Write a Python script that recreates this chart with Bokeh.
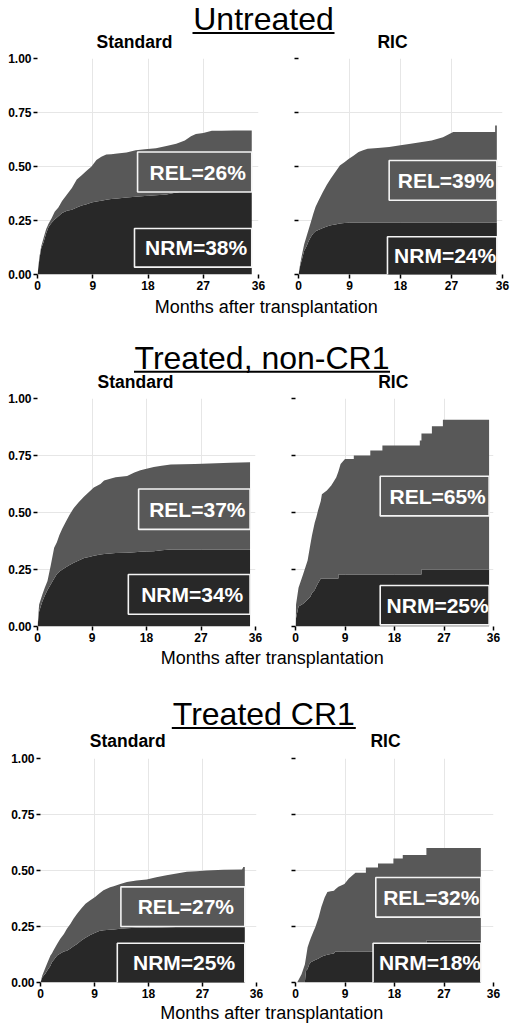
from bokeh.plotting import figure
from bokeh.models import Range1d, FixedTicker, PrintfTickFormatter, ColumnDataSource, CustomLabelingPolicy
from bokeh.layouts import column, row
from bokeh.embed import file_html
from bokeh.resources import INLINE
from bokeh.core.properties import value

# ---------------- data ----------------
sections = ["Untreated", "Treated, non-CR1", "Treated CR1"]
panels = ["Standard", "RIC"]
x_ticks = [0, 9, 18, 27, 36]
y_ticks = [0, 0.25, 0.5, 0.75, 1.0]
x_title = "Months after transplantation"

rel_pct = [[26, 39], [37, 65], [27, 32]]
nrm_pct = [[38, 24], [34, 25], [25, 18]]

# cumulative incidence: time (months), NRM, NRM + relapse (top of stack)
# Untreated - Standard
unt_std_t = [0, 0.3, 0.6, 1.0, 1.4, 1.8, 2.3, 2.8, 3.4, 4.0, 4.8, 5.6, 6.4, 7.2, 8.0, 8.8, 9.6, 10.4, 11.2, 12.0,
             13.0, 14.5, 16.0, 17.5, 19.3, 21.0, 22.6, 24.0, 25.0, 25.8, 27.0, 28.4, 30.0, 32.0, 34.9]
unt_std_nrm = [0, .07, .12, .15, .19, .22, .24, .255, .27, .285, .295, .30, .31, .32, .325, .333, .338, .342, .346, .35,
               .352, .356, .36, .363, .367, .37, .38, .385, .39, .40, .402, .405, .408, .41, .41]
unt_std_total = [0, .08, .13, .17, .21, .235, .26, .29, .31, .34, .37, .40, .44, .46, .48, .50, .53, .545, .555, .557,
                 .56, .565, .575, .58, .585, .595, .605, .62, .64, .65, .655, .665, .665, .667, .667]
# Untreated - RIC
unt_ric_t = [0, 0.3, 0.6, 1.0, 1.4, 1.8, 2.2, 2.6, 3.0, 3.5, 4.3, 5.0, 5.7, 6.5, 7.3, 8.1, 8.9, 9.7, 10.6, 11.4,
             12.2, 14.0, 16.0, 18.0, 19.8, 21.5, 23.5, 25.5, 27.3, 34.7, 34.7, 35.0]
unt_ric_nrm = [0, .04, .07, .11, .13, .155, .175, .19, .20, .206, .215, .222, .228, .232, .236, .238, .24, .24, .24, .24,
               .24, .24, .24, .24, .24, .24, .24, .24, .24, .24, .24, .24]
unt_ric_total = [0, .05, .09, .14, .175, .21, .244, .28, .313, .34, .382, .415, .444, .475, .505, .52, .536, .55, .567, .575,
                 .582, .586, .59, .598, .605, .612, .62, .635, .66, .66, .69, .69]
# Treated, non-CR1 - Standard
tnc_std_t = [0, 0.27, 0.8, 1.2, 1.65, 2.2, 2.75, 3.2, 3.6, 4.1, 4.7, 5.3, 6.0, 6.8, 7.7, 8.5, 9.3, 10.4, 11.0, 12.0,
             12.9, 14.8, 16.0, 17.0, 18.0, 19.2, 20.5, 22.0, 26.0, 31.9, 35.1]
tnc_std_nrm = [0, .066, .11, .135, .16, .185, .21, .23, .24, .25, .26, .27, .28, .29, .30, .305, .31, .316, .318, .32,
               .322, .324, .326, .328, .329, .33, .334, .338, .338, .338, .338]
tnc_std_total = [0, .096, .14, .17, .20, .27, .345, .37, .40, .43, .46, .49, .52, .545, .57, .59, .61, .625, .64, .648,
                 .655, .66, .675, .685, .692, .70, .705, .71, .713, .718, .72]
# Treated, non-CR1 - RIC
tnc_ric_t = [0, 0.1, 0.55, 1.4, 2.2, 2.7, 3.0, 3.5, 3.8, 4.1, 4.6, 4.8, 5.7, 6.5, 7.4, 7.8, 7.8, 8.2, 9.0, 10.6,
             10.6, 13.6, 13.6, 15.8, 15.8, 22.6, 22.6, 22.9, 22.9, 24.8, 24.8, 26.8, 26.8, 35.2]
tnc_ric_nrm = [0, .037, .088, .10, .118, .13, .147, .16, .176, .19, .21, .21, .21, .21, .21, .21, .228, .228, .228, .228,
               .228, .228, .228, .228, .228, .228, .228, .228, .25, .25, .25, .25, .25, .25]
tnc_ric_total = [0, .096, .17, .23, .29, .36, .40, .456, .48, .51, .55, .58, .596, .618, .654, .68, .68, .713, .735, .735,
                 .75, .75, .772, .772, .794, .794, .816, .816, .846, .846, .878, .878, .907, .907]
# Treated CR1 - Standard
tcr_std_t = [0, 0.28, 0.83, 1.1, 1.66, 1.9, 2.2, 2.77, 3.3, 3.9, 4.4, 5.0, 5.5, 6.1, 6.8, 7.5, 8.3, 9.1, 9.8, 10.5,
             11.6, 12.2, 13.3, 14.4, 16.0, 17.7, 19.3, 21.0, 22.7, 24.4, 26.0, 27.7, 30.5, 33.6, 33.8, 34.05]
tcr_std_nrm = [0, .022, .04, .052, .075, .09, .10, .12, .13, .138, .142, .152, .162, .172, .187, .20, .212, .222, .23, .233,
               .235, .237, .24, .242, .244, .245, .246, .247, .248, .249, .25, .25, .25, .25, .25, .25]
tcr_std_total = [0, .03, .067, .085, .12, .13, .145, .172, .195, .217, .24, .262, .285, .307, .33, .352, .367, .382, .397, .412,
                 .425, .43, .44, .449, .455, .46, .47, .479, .487, .494, .497, .50, .503, .505, .516, .516]
# Treated CR1 - RIC
tcr_ric_t = [0, 0.3, 1.1, 1.7, 1.9, 2.2, 2.5, 2.8, 3.3, 3.6, 4.2, 4.7, 5.3, 5.8, 6.4, 7.0, 7.2, 7.8, 8.9, 9.7,
             10.9, 12.8, 12.8, 15.0, 15.0, 17.8, 17.8, 19.5, 19.5, 23.8, 23.8, 33.7]
tcr_ric_nrm = [0, 0, 0, 0, .052, .06, .082, .09, .097, .10, .107, .115, .12, .124, .127, .13, .138, .138, .138, .138,
               .138, .138, .138, .138, .138, .138, .138, .138, .138, .138, .187, .187]
tcr_ric_total = [0, 0, .037, .08, .11, .157, .18, .20, .23, .247, .29, .337, .38, .404, .407, .41, .415, .427, .44, .464,
                 .49, .49, .513, .513, .531, .531, .554, .554, .569, .569, .60, .60]

series = [
    [(unt_std_t, unt_std_nrm, unt_std_total), (unt_ric_t, unt_ric_nrm, unt_ric_total)],
    [(tnc_std_t, tnc_std_nrm, tnc_std_total), (tnc_ric_t, tnc_ric_nrm, tnc_ric_total)],
    [(tcr_std_t, tcr_std_nrm, tcr_std_total), (tcr_ric_t, tcr_ric_nrm, tcr_ric_total)],
]

# ---------------- layout / style ----------------
FONT = "Liberation Sans"
GREY = "#585858"
DARK = "#282828"
GRID = "#e6e6e6"

# label box placement (months, value): rel_x0, rel_y0, rel_y1, nrm_x0, nrm_y0, nrm_y1
box_place = [
    [(16.3, .382, .567, 15.8, .034, .213), (16.0, .344, .528, 15.7, -0.01, .175)],
    [(16.7, .426, .603, 15.0, .054, .228), (15.4, .485, .659, 15.4, .007, .18)],
    [(13.4, .25, .427, 12.8, -0.01, .175), (14.6, .292, .469, 14.1, -0.01, .175)],
]
# page x of frames: L0, L1, R0, R1 ; split between left/right figure ; frame heights
frames_x = [(37, 258, 278, 502), (37, 255, 276, 493), (40, 256, 274, 493)]
split_x = [268, 265, 265]
frame_h = [216, 228, 224]
PAGE_W = 513
MID = 0.33  # offset of text "middle" above the alphabetic baseline, in em


def panel(si, pi, w, mbl, mbr, show_ylabels):
    t, nrm, total = series[si][pi]
    h = 7 + frame_h[si] + 20
    p = figure(width=w, height=h, x_range=Range1d(0, 36), y_range=Range1d(0, 1), title=None,
               min_border_left=mbl, min_border_right=mbr, min_border_top=7, min_border_bottom=20,
               toolbar_location=None, tools="", output_backend="svg")
    p.outline_line_color = None
    src = ColumnDataSource(dict(t=t, nrm=nrm, total=total, zero=[0] * len(t)))
    p.varea(x="t", y1="zero", y2="nrm", fill_color=DARK, source=src)
    p.varea(x="t", y1="nrm", y2="total", fill_color=GREY, source=src)

    end = t[-1]
    bp = box_place[si][pi]
    p.quad(left=[bp[0], bp[3]], right=[end, end], bottom=[bp[1], bp[4]], top=[bp[2], bp[5]],
           fill_color=[GREY, DARK], line_color="#f4f4f4", line_width=1.6)
    p.text(x=[(bp[0] + end) / 2, (bp[3] + end) / 2],
           y=[(max(0, bp[1]) + bp[2]) / 2, (max(0, bp[4]) + bp[5]) / 2],
           text=[f"REL={rel_pct[si][pi]}%", f"NRM={nrm_pct[si][pi]}%"],
           text_color="white", text_font=value(FONT), text_font_style="bold", text_font_size="21px",
           text_align="center", text_baseline="middle", x_offset=3)

    p.xaxis.ticker = FixedTicker(ticks=x_ticks)
    p.yaxis.ticker = FixedTicker(ticks=y_ticks)
    p.yaxis.formatter = PrintfTickFormatter(format="%.2f")
    for ax in list(p.xaxis) + list(p.yaxis):
        ax.axis_label = None
        ax.axis_line_color = None
        ax.major_tick_out = 4
        ax.major_tick_in = 0
        ax.minor_tick_out = 0
        ax.minor_tick_in = 0
        ax.major_tick_line_width = 1.5
        ax.major_tick_line_color = "black"
        ax.major_label_text_font = FONT
        ax.major_label_text_font_style = "bold"
        ax.major_label_text_font_size = "12px"
        ax.major_label_text_color = "black"
        ax.major_label_standoff = 2
    if not show_ylabels:
        p.yaxis.major_label_policy = CustomLabelingPolicy(code="return new Set()")
        p.yaxis.major_label_standoff = 0
    p.grid.grid_line_color = GRID
    p.grid.grid_line_width = 1
    return p


def panel_row(si):
    L0, L1, R0, R1 = frames_x[si]
    B = split_x[si]
    left = panel(si, 0, B, L0, B - L1, True)
    right = panel(si, 1, PAGE_W - B, R0 - B, PAGE_W - R1, False)
    return row(left, right)


def text_fig(h, items, lines):
    w = PAGE_W
    p = figure(width=w, height=h, x_range=Range1d(0, w), y_range=Range1d(h, 0), min_border=0, title=None,
               x_axis_location=None, y_axis_location=None, toolbar_location=None, tools="",
               output_backend="svg")
    p.outline_line_color = None
    p.grid.visible = False
    for (x, base, txt, size, style) in items:
        p.text(x=[x], y=[base - MID * size], text=[txt], text_font=value(FONT), text_font_size=f"{size}px",
               text_font_style=style, text_align="center", text_baseline="middle", text_color="black")
    for (xc, half, y) in lines:
        p.segment(x0=[xc - half], x1=[xc + half], y0=[y], y1=[y], line_color="black", line_width=2)
    return p


TS, SS, XS = 32, 17.5, 18
# (x centre, baseline, text, size, style) in figure pixels
h1 = text_fig(51, [(263, 29, sections[0], TS, "normal"),
                   (134, 47, panels[0], SS, "bold"), (392, 47, panels[1], SS, "bold")],
              [(263, 71, 32.5)])
h2 = text_fig(97, [(265.8, 18, x_title, XS, "normal"),
                   (261.5, 73.7, sections[1], TS, "normal"),
                   (135, 93, panels[0], SS, "bold"), (392.7, 93, panels[1], SS, "bold")],
              [(261.5, 128, 77.3)])
h3 = text_fig(105, [(271.7, 17, x_title, XS, "normal"),
                    (263.3, 78, sections[2], TS, "normal"),
                    (127.2, 100.5, panels[0], SS, "bold"), (385, 100.5, panels[1], SS, "bold")],
              [(263.3, 92, 81.5)])
foot = text_fig(22, [(271.3, 16.5, x_title, XS, "normal")], [])

layout = column(h1, panel_row(0), h2, panel_row(1), h3, panel_row(2), foot)

open("out.html", "w").write(file_html(layout, INLINE))
